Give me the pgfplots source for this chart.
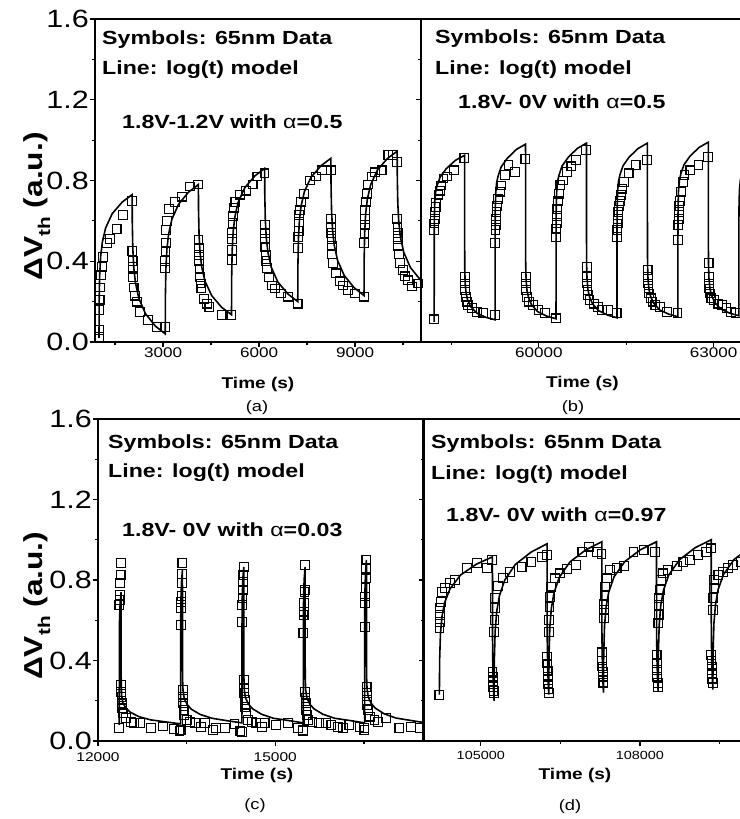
\documentclass[border=0pt]{standalone}
\usepackage{fontspec}
\setmainfont[FakeStretch=1.22]{Liberation Sans}
\usepackage{pgfplots}
\pgfplotsset{compat=1.18}
\pgfplotsset{
  panel/.style={
    scale only axis, anchor=south west,
    ymin=0, ymax=1.6, scaled x ticks=false, scaled y ticks=false,
    ytick={0,0.4,0.8,1.2,1.6}, minor ytick={0.2,0.6,1.0,1.4},
    tick align=outside, xtick pos=bottom, ytick pos=left,
    axis line style={line width=1.6pt},
    major tick length=5pt, minor tick length=3pt,
    tick style={line width=1.2pt, black},
    ylabel style={at={(axis description cs:-0.178,0.42)}, anchor=center, font=\fontsize{26}{26}\selectfont\bfseries},
    xlabel style={anchor=center, font=\fontsize{15.6}{16}\selectfont\bfseries},
    yticklabel style={font=\fontsize{25}{25}\selectfont, inner sep=1pt},
    xticklabel style={inner sep=1pt},
  },
  model/.style={black, line width=1.6pt, no markers},
  sq/.style={only marks, mark=square, mark size=4.4pt, mark options={line width=1.1pt, black, fill=none, solid}},
}
\newcommand{\ann}{\fontsize{19}{19}\selectfont\bfseries}
\begin{document}
\begin{tikzpicture}
% ---------------- (a)
\begin{axis}[panel, at={(95pt,477pt)}, width=326pt, height=323pt,
  xmin=875, xmax=11060, xtick={3000,6000,9000}, xticklabels={3000,6000,9000},
  minor xtick={1500,4500,7500,10500},
  xticklabel style={font=\fontsize{14}{14}\selectfont},
  yticklabels={0.0,0.4,0.8,1.2,1.6},
  xlabel={Time (s)}, xlabel style={at={(axis description cs:0.5,-0.13)}},
  ylabel={ΔV\raisebox{-0.3em}{\fontsize{17}{17}\selectfont th} (a.u.)}]
\addplot[model] coordinates {(1000,0.02)(1005,0.204)(1021,0.333)(1052,0.424)(1104,0.494)(1207,0.565)(1414,0.636)(1725,0.693)(2035,0.73)
(2040,0.591)(2056,0.464)(2087,0.368)(2139,0.294)(2242,0.218)(2449,0.141)(2760,0.079)(3070,0.04)
(3075,0.232)(3091,0.366)(3122,0.461)(3174,0.534)(3277,0.608)(3484,0.682)(3795,0.742)(4105,0.78)
(4110,0.650)(4126,0.531)(4157,0.442)(4209,0.372)(4312,0.301)(4519,0.230)(4830,0.172)(5140,0.135)
(5145,0.323)(5161,0.455)(5192,0.548)(5244,0.619)(5347,0.692)(5554,0.764)(5865,0.822)(6175,0.86)
(6180,0.727)(6196,0.605)(6227,0.514)(6279,0.443)(6382,0.370)(6589,0.297)(6900,0.238)(7210,0.20)
(7215,0.384)(7231,0.513)(7262,0.604)(7314,0.674)(7417,0.745)(7624,0.816)(7935,0.873)(8245,0.91)
(8250,0.773)(8266,0.648)(8297,0.554)(8349,0.480)(8452,0.405)(8659,0.330)(8970,0.269)(9280,0.23)
(9285,0.415)(9301,0.545)(9332,0.637)(9384,0.708)(9487,0.779)(9694,0.851)(10005,0.908)(10315,0.945)
(10320,0.809)(10336,0.684)(10367,0.591)(10419,0.518)(10522,0.444)(10729,0.369)(11040,0.308)(11100,0.30)};
\addplot[sq] coordinates {(1000,0.025)(1005,0.06)(1012,0.16)(1020,0.21)(1030,0.27)(1055,0.33)(1085,0.37)(1135,0.42)(1240,0.49)(1345,0.51)(1550,0.56)(1760,0.63)(2030,0.70)
(2045,0.45)(2050,0.40)(2055,0.37)(2065,0.32)(2080,0.27)(2120,0.23)(2180,0.20)(2290,0.15)(2540,0.11)(2800,0.076)(3060,0.076)
(3065,0.365)(3072,0.40)(3078,0.45)(3085,0.49)(3100,0.555)(3120,0.60)(3180,0.66)(3375,0.695)(3585,0.72)(3845,0.77)(4100,0.78)
(4110,0.505)(4115,0.465)(4120,0.43)(4128,0.40)(4140,0.36)(4155,0.32)(4175,0.29)(4200,0.265)(4280,0.215)(4370,0.19)(4450,0.175)(4830,0.135)(5140,0.135)
(5145,0.405)(5150,0.455)(5155,0.51)(5160,0.54)(5170,0.59)(5185,0.625)(5210,0.665)(5260,0.695)(5400,0.73)(5600,0.75)(5800,0.78)(5950,0.82)(6170,0.835)
(6185,0.58)(6190,0.54)(6195,0.51)(6200,0.47)(6215,0.43)(6230,0.40)(6250,0.365)(6310,0.32)(6400,0.28)(6500,0.265)(6690,0.24)(6905,0.225)(7205,0.19)
(7225,0.465)(7230,0.52)(7235,0.55)(7245,0.595)(7255,0.63)(7270,0.655)(7310,0.695)(7400,0.735)(7590,0.80)(7780,0.82)(7960,0.85)(8240,0.85)
(8250,0.61)(8255,0.57)(8260,0.54)(8265,0.51)(8275,0.475)(8290,0.435)(8320,0.39)(8400,0.34)(8520,0.30)(8620,0.28)(8790,0.255)(9000,0.24)(9280,0.225)
(9290,0.49)(9295,0.54)(9300,0.58)(9310,0.61)(9320,0.655)(9340,0.695)(9370,0.735)(9400,0.78)(9520,0.82)(9620,0.84)(9830,0.85)(10040,0.925)(10180,0.925)(10310,0.89)
(10320,0.61)(10325,0.57)(10330,0.54)(10340,0.51)(10350,0.475)(10370,0.435)(10400,0.39)(10500,0.355)(10560,0.325)(10650,0.305)(10770,0.275)(10980,0.29)};
\end{axis}
% ---------------- (b)
\begin{axis}[panel, at={(421pt,477pt)}, width=323pt, height=323pt,
  xmin=57980, xmax=63520, xtick={60000,63000}, xticklabels={60000,63000},
  minor xtick={58500,61500},
  xticklabel style={font=\fontsize{14}{14}\selectfont},
  yticklabels={},
  xlabel={Time (s)}, xlabel style={at={(axis description cs:0.5,-0.127)}}]
\addplot[model] coordinates {(58206,0.10)(58207,0.513)(58209,0.612)(58216,0.694)(58232,0.744)(58258,0.777)(58310,0.818)(58415,0.859)(58571,0.900)(58728,0.925)
(58729,0.477)(58731,0.355)(58738,0.289)(58754,0.240)(58780,0.208)(58832,0.175)(58937,0.143)(59093,0.122)(59251,0.11)
(59252,0.545)(59254,0.649)(59261,0.736)(59277,0.789)(59303,0.823)(59355,0.867)(59460,0.910)(59616,0.954)(59773,0.98)
(59774,0.504)(59776,0.375)(59783,0.305)(59799,0.253)(59825,0.219)(59877,0.184)(59982,0.150)(60138,0.128)(60296,0.115)
(60297,0.55)(60299,0.654)(60306,0.741)(60322,0.794)(60348,0.828)(60400,0.872)(60505,0.915)(60661,0.959)(60818,0.985)
(60819,0.509)(60821,0.380)(60828,0.310)(60844,0.258)(60870,0.224)(60922,0.189)(61027,0.155)(61183,0.133)(61341,0.12)
(61342,0.553)(61344,0.656)(61351,0.743)(61367,0.795)(61393,0.829)(61445,0.873)(61550,0.916)(61706,0.959)(61863,0.985)
(61864,0.512)(61866,0.383)(61873,0.314)(61889,0.263)(61915,0.228)(61967,0.194)(62072,0.159)(62228,0.138)(62386,0.125)
(62387,0.558)(62389,0.661)(62396,0.748)(62412,0.800)(62438,0.834)(62490,0.878)(62595,0.921)(62751,0.964)(62908,0.99)
(62909,0.517)(62911,0.388)(62918,0.319)(62934,0.268)(62960,0.233)(63012,0.199)(63117,0.164)(63273,0.143)(63431,0.13)
(63432,0.56)(63434,0.663)(63441,0.749)(63457,0.801)(63483,0.835)(63535,0.878)};
\addplot[sq] coordinates {(58206,0.112)(58208,0.555)(58210,0.587)(58215,0.61)(58222,0.645)(58230,0.67)(58240,0.69)(58280,0.73)(58305,0.75)(58325,0.775)(58365,0.81)(58420,0.82)(58540,0.85)(58725,0.91)
(58732,0.323)(58735,0.29)(58740,0.257)(58748,0.224)(58765,0.20)(58790,0.183)(58850,0.167)(58940,0.15)(59050,0.145)(59245,0.134)
(59255,0.49)(59258,0.555)(59262,0.58)(59268,0.61)(59275,0.645)(59285,0.675)(59300,0.71)(59330,0.745)(59360,0.775)(59420,0.827)(59480,0.876)(59595,0.843)(59770,0.905)
(59777,0.323)(59780,0.29)(59785,0.257)(59795,0.224)(59830,0.20)(59905,0.183)(59995,0.158)(60110,0.142)(60290,0.117)
(60300,0.52)(60303,0.56)(60307,0.59)(60312,0.625)(60320,0.66)(60330,0.70)(60345,0.735)(60370,0.777)(60420,0.80)(60490,0.843)(60560,0.87)(60640,0.90)(60810,0.95)
(60822,0.373)(60825,0.323)(60830,0.29)(60836,0.257)(60845,0.233)(60870,0.208)(60950,0.19)(61010,0.175)(61080,0.158)(61190,0.158)(61335,0.142)
(61345,0.52)(61348,0.555)(61352,0.587)(61357,0.61)(61365,0.645)(61375,0.675)(61388,0.70)(61405,0.727)(61430,0.76)(61460,0.793)(61540,0.835)(61660,0.876)(61855,0.90)
(61867,0.356)(61870,0.323)(61875,0.29)(61882,0.265)(61890,0.24)(61920,0.216)(61950,0.20)(62000,0.183)(62080,0.175)(62200,0.15)(62380,0.142)
(62390,0.505)(62395,0.58)(62400,0.61)(62405,0.645)(62412,0.675)(62420,0.70)(62440,0.745)(62470,0.793)(62500,0.826)(62600,0.85)(62740,0.876)(62900,0.917)
(62912,0.39)(62915,0.323)(62920,0.29)(62927,0.265)(62935,0.24)(62960,0.216)(63000,0.208)(63080,0.19)(63150,0.183)(63220,0.167)(63300,0.15)(63380,0.142)};
\end{axis}
% ---------------- (c)
\begin{axis}[panel, at={(98pt,78pt)}, width=325pt, height=322pt,
  xmin=12000, xmax=17500, xtick={12000,15000}, xticklabels={12000,15000},
  minor xtick={13500,16500},
  xticklabel style={font=\fontsize{12.7}{13}\selectfont, yshift=-5pt},
  yticklabels={0.0,0.4,0.8,1.2,1.6},
  ylabel style={at={(axis description cs:-0.188,0.42)}},
  xlabel={Time (s)}, xlabel style={at={(axis description cs:0.489,-0.106)}},
  ylabel={ΔV\raisebox{-0.3em}{\fontsize{17}{17}\selectfont th} (a.u.)}]
\addplot[model] coordinates {(12360,0.08)(12361,0.476)(12365,0.608)(12375,0.687)(12391,0.74)
(12392,0.334)(12394,0.268)(12401,0.223)(12421,0.190)(12471,0.164)(12541,0.144)(12691,0.121)(12891,0.105)(13141,0.095)(13398,0.085)
(13399,0.544)(13403,0.697)(13413,0.789)(13429,0.85)
(13430,0.379)(13432,0.303)(13439,0.250)(13459,0.212)(13509,0.181)(13579,0.158)(13729,0.132)(13929,0.113)(14179,0.101)(14436,0.09)
(14437,0.555)(14441,0.71)(14451,0.803)(14467,0.865)
(14468,0.385)(14470,0.307)(14477,0.253)(14497,0.214)(14547,0.183)(14617,0.160)(14767,0.133)(14967,0.113)(15217,0.102)(15474,0.09)
(15475,0.555)(15479,0.71)(15489,0.803)(15505,0.865)
(15506,0.385)(15508,0.307)(15515,0.253)(15535,0.214)(15585,0.183)(15655,0.160)(15805,0.133)(16005,0.113)(16255,0.102)(16512,0.09)
(16513,0.576)(16517,0.738)(16527,0.835)(16543,0.90)
(16544,0.398)(16546,0.317)(16553,0.260)(16573,0.220)(16623,0.187)(16693,0.163)(16843,0.135)(17043,0.114)(17293,0.102)(17550,0.09)};
\addplot[sq] coordinates {(12355,0.063)(12362,0.676)(12366,0.70)(12370,0.725)(12376,0.785)(12382,0.825)(12390,0.885)
(12393,0.278)(12395,0.245)(12398,0.22)(12403,0.187)(12410,0.162)(12430,0.137)(12475,0.113)(12560,0.096)(12615,0.09)(12720,0.091)(12900,0.063)(13100,0.072)(13290,0.06)(13380,0.05)
(13398,0.055)(13400,0.577)(13404,0.66)(13408,0.69)(13413,0.72)(13419,0.785)(13424,0.83)(13429,0.885)
(13433,0.253)(13436,0.22)(13440,0.187)(13448,0.154)(13460,0.129)(13500,0.104)(13560,0.096)(13640,0.089)(13745,0.071)(13810,0.088)(13945,0.055)(14000,0.063)(14150,0.063)(14310,0.084)(14410,0.05)
(14432,0.046)(14438,0.593)(14442,0.676)(14446,0.71)(14451,0.75)(14456,0.79)(14461,0.825)(14467,0.866)
(14470,0.303)(14473,0.262)(14477,0.237)(14482,0.204)(14490,0.17)(14505,0.137)(14540,0.104)(14600,0.095)(14680,0.091)(14770,0.071)(14820,0.088)(15015,0.08)(15215,0.088)(15385,0.063)(15465,0.05)
(15470,0.055)(15476,0.535)(15480,0.626)(15484,0.643)(15489,0.684)(15494,0.742)(15498,0.75)(15505,0.875)
(15508,0.245)(15511,0.212)(15515,0.187)(15520,0.154)(15530,0.129)(15560,0.104)(15630,0.096)(15745,0.088)(15860,0.088)(15950,0.08)(16055,0.071)(16150,0.063)(16255,0.08)(16425,0.071)(16505,0.063)
(16508,0.055)(16514,0.565)(16518,0.684)(16522,0.718)(16527,0.759)(16532,0.808)(16538,0.858)(16543,0.90)
(16546,0.27)(16549,0.237)(16553,0.204)(16558,0.179)(16565,0.154)(16600,0.121)(16680,0.104)(16735,0.096)(16877,0.113)(17100,0.063)(17300,0.071)(17445,0.063)};
\end{axis}
% ---------------- (d)
\begin{axis}[panel, at={(424pt,78pt)}, width=322pt, height=322pt,
  xmin=103930, xmax=110000, xtick={105000,108000}, xticklabels={105000,108000},
  minor xtick={106500,109500},
  xticklabel style={font=\fontsize{11.8}{12}\selectfont, yshift=-4pt},
  yticklabels={},
  xlabel={Time (s)}, xlabel style={at={(axis description cs:0.469,-0.106)}}]
\addplot[model] coordinates {(104220,0.23)(104225,0.407)(104240,0.532)(104270,0.620)(104320,0.688)(104420,0.756)(104620,0.825)(104920,0.879)(105220,0.915)
(105221,0.558)(105223,0.450)(105230,0.343)(105240,0.257)(105251,0.20)
(105256,0.402)(105271,0.544)(105301,0.644)(105351,0.721)(105451,0.799)(105651,0.877)(105951,0.939)(106251,0.98)
(106252,0.605)(106254,0.493)(106261,0.38)(106271,0.29)(106282,0.23)
(106287,0.427)(106302,0.565)(106332,0.662)(106382,0.738)(106482,0.814)(106682,0.890)(106982,0.950)(107282,0.99)
(107283,0.615)(107285,0.503)(107292,0.39)(107302,0.30)(107313,0.24)
(107318,0.434)(107333,0.571)(107363,0.667)(107413,0.741)(107513,0.816)(107713,0.891)(108013,0.951)(108313,0.99)
(108314,0.618)(108316,0.506)(108323,0.394)(108333,0.305)(108344,0.245)
(108349,0.441)(108364,0.578)(108394,0.675)(108444,0.749)(108544,0.825)(108744,0.900)(109044,0.961)(109344,1.0)
(109345,0.628)(109347,0.516)(109354,0.404)(109364,0.315)(109375,0.255)
(109380,0.448)(109395,0.584)(109425,0.679)(109475,0.753)(109575,0.827)(109775,0.902)(110075,0.961)};
\addplot[sq] coordinates {(104220,0.23)(104223,0.56)(104226,0.59)(104230,0.625)(104236,0.66)(104245,0.69)(104275,0.74)(104330,0.76)(104425,0.785)(104520,0.80)(104740,0.86)(104925,0.885)(105115,0.86)(105215,0.90)
(105222,0.345)(105225,0.32)(105229,0.295)(105235,0.27)(105242,0.25)(105250,0.237)
(105255,0.54)(105258,0.60)(105262,0.66)(105268,0.71)(105330,0.77)(105425,0.81)(105550,0.84)(105770,0.865)(105955,0.89)(106150,0.915)(106245,0.925)
(106253,0.42)(106256,0.385)(106260,0.35)(106265,0.32)(106270,0.285)(106276,0.26)(106282,0.24)
(106286,0.543)(106290,0.60)(106296,0.667)(106305,0.717)(106330,0.767)(106400,0.808)(106500,0.833)(106620,0.855)(106800,0.875)(106915,0.94)(107040,0.966)(107195,0.94)(107275,0.93)
(107284,0.44)(107287,0.40)(107292,0.37)(107298,0.345)(107304,0.32)(107312,0.29)
(107317,0.61)(107320,0.65)(107325,0.68)(107332,0.72)(107345,0.767)(107380,0.808)(107440,0.85)(107560,0.858)(107700,0.87)(107880,0.94)(108070,0.95)(108290,0.94)
(108315,0.427)(108318,0.386)(108322,0.353)(108328,0.32)(108335,0.287)(108343,0.27)
(108348,0.585)(108352,0.625)(108357,0.675)(108363,0.71)(108375,0.75)(108400,0.80)(108440,0.833)(108520,0.85)(108700,0.87)(108820,0.89)(108940,0.90)(109100,0.925)(109250,0.94)(109335,0.957)
(109346,0.427)(109349,0.40)(109353,0.37)(109358,0.336)(109365,0.31)(109373,0.287)
(109380,0.65)(109385,0.71)(109392,0.76)(109400,0.80)(109480,0.825)(109570,0.84)(109665,0.858)(109760,0.875)(109900,0.89)};
\end{axis}
% annotations
\node[anchor=base west, inner sep=0] at (102pt,774pt) {\ann Symbols: 65nm Data};
\node[anchor=base west, inner sep=0] at (102pt,744pt) {\ann Line: log(t) model};
\node[anchor=base west, inner sep=0] at (122pt,690pt) {\ann 1.8V-1.2V with {\mdseries α}=0.5};
\node[anchor=base west, inner sep=0] at (435pt,775pt) {\ann Symbols: 65nm Data};
\node[anchor=base west, inner sep=0] at (435pt,744pt) {\ann Line: log(t) model};
\node[anchor=base west, inner sep=0] at (458pt,710pt) {\ann 1.8V- 0V with {\mdseries α}=0.5};
\node[anchor=base west, inner sep=0] at (108pt,370.5pt) {\ann Symbols: 65nm Data};
\node[anchor=base west, inner sep=0] at (108pt,341.5pt) {\ann Line: log(t) model};
\node[anchor=base west, inner sep=0] at (122pt,282pt) {\ann 1.8V- 0V with {\mdseries α}=0.03};
\node[anchor=base west, inner sep=0] at (431pt,370pt) {\ann Symbols: 65nm Data};
\node[anchor=base west, inner sep=0] at (431pt,339pt) {\ann Line: log(t) model};
\node[anchor=base west, inner sep=0] at (446pt,297pt) {\ann 1.8V- 0V with {\mdseries α}=0.97};
\node[font=\fontsize{15}{15}\selectfont] at (257pt,411pt) {(a)};
\node[font=\fontsize{15}{15}\selectfont] at (573pt,411pt) {(b)};
\node[font=\fontsize{15}{15}\selectfont] at (255pt,13pt) {(c)};
\node[font=\fontsize{15}{15}\selectfont] at (570pt,12pt) {(d)};
\pgfresetboundingbox
\useasboundingbox (0pt,0pt) rectangle (739pt,819pt);
\end{tikzpicture}
\end{document}
